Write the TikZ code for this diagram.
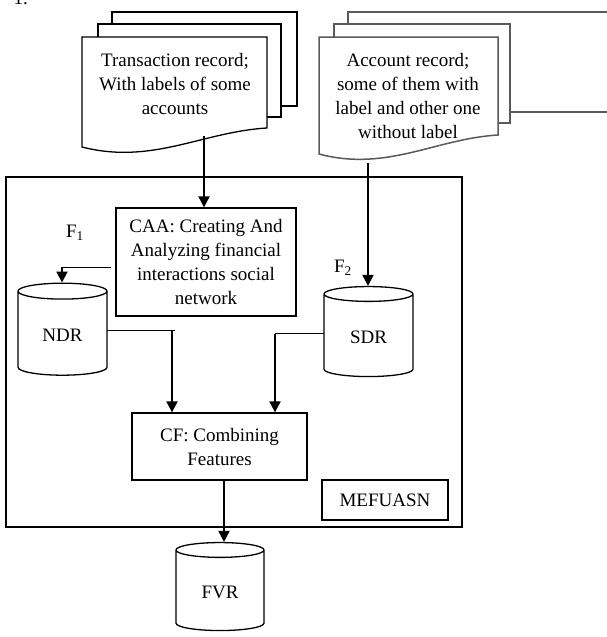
\documentclass[tikz,border=0pt]{standalone}
\usepackage{fontspec}
\setmainfont{Liberation Serif}
\usetikzlibrary{arrows.meta,shapes.geometric}
\newcommand{\thickw}{2pt}
\newcommand{\thinw}{1pt}
% document sheet with wavy bottom: x, y, width, left height, drop
\newcommand{\docsheet}[6]{%
  \draw[#6] (#1,#2) -- ++(#3,0) -- ++(0,#4-#5)
    .. controls ++(-0.35*#3,0.2*#5) and ++(0.38*#3,0.95*#5) .. (#1,#2+#4) -- cycle;}
\tikzset{
  box/.style={draw, line width=1.3pt, align=center, inner sep=2pt},
  store/.style={draw, line width=1.3pt, cylinder, shape border rotate=90, aspect=0.34},
  flow/.style={line width=\thickw, -{Triangle[length=11pt,width=11pt]}},
  link/.style={line width=\thinw},
  sheet/.style={fill=white, line width=1.3pt},
  greysheet/.style={fill=white, line width=1.5pt, draw=black!65}
}
\begin{document}
\begin{tikzpicture}[x=1pt, y=-1pt, font=\fontsize{19}{24}\selectfont]
    \useasboundingbox (0,0) rectangle (607,637);
    \node[anchor=base west] (num) at (10,5) {1.};

    % input sheets
    \draw[sheet] (112,12) rectangle (297,106);
    \draw[sheet] (98,24) rectangle (281,117);
    \docsheet{82}{37}{185}{110}{19}{sheet}
    \node[align=center] (trans) at (175,84) {Transaction record;\\With labels of some\\accounts};
    \coordinate (transbot) at (204,136);

    \draw[greysheet] (348,12) rectangle (640,112);
    \draw[greysheet] (334,24) rectangle (510,123);
    \docsheet{319}{37}{179}{117}{19}{greysheet}
    \node[align=center] (acc) at (408,96) {Account record;\\some of them with\\label and other one\\without label};
    \coordinate (accbot) at (368,163);

    % system
    \node[draw, line width=\thickw, minimum width=456pt, minimum height=350pt] (sys) at (234,352) {};
    \node[box, minimum width=126pt, minimum height=40pt] (mef) at (385,500) {MEFUASN};
    \node[box, minimum width=180pt, minimum height=108pt] (caa) at (206,262)
        {CAA: Creating And\\Analyzing financial\\interactions social\\network};
    \node[box, minimum width=175pt, minimum height=67pt] (cf) at (219.5,446.5) {CF: Combining\\Features};
    \node[store, minimum width=89pt, minimum height=92pt] (ndr) at (62.5,335) {NDR};
    \node[store, minimum width=89pt, minimum height=90pt] (sdr) at (368.5,337) {SDR};
    \node[store, minimum width=88pt, minimum height=88pt] (fvr) at (220,592) {FVR};
    \node (f1) at (75,233) {F\textsubscript{1}};
    \node (f2) at (343,268) {F\textsubscript{2}};

    % connectors
    \draw[flow] (transbot) -- (transbot |- caa.north);
    \draw[flow] (accbot) -- (accbot |- sdr.north);

    \coordinate (f1a) at (111,267);
    \coordinate (f1b) at (62,267);
    \draw[link] (f1a) -- (f1b);
    \draw[flow] ([yshift=0.5pt]f1b) -- (f1b |- ndr.north);

    \coordinate (na) at (107,330);
    \coordinate (nb) at (175,330);
    \coordinate (nc) at (172,330);
    \draw[link] (na) -- (nb);
    \draw[flow] (nc) -- (nc |- cf.north);

    \coordinate (sa) at (324,333);
    \coordinate (sb) at (275,333);
    \draw[link] (sa) -- (sb);
    \draw[flow] ([yshift=-0.5pt]sb) -- (sb |- cf.north);

    \coordinate (cfb) at (224,480);
    \draw[flow] (cfb) -- (cfb |- fvr.north);
\end{tikzpicture}
\end{document}
